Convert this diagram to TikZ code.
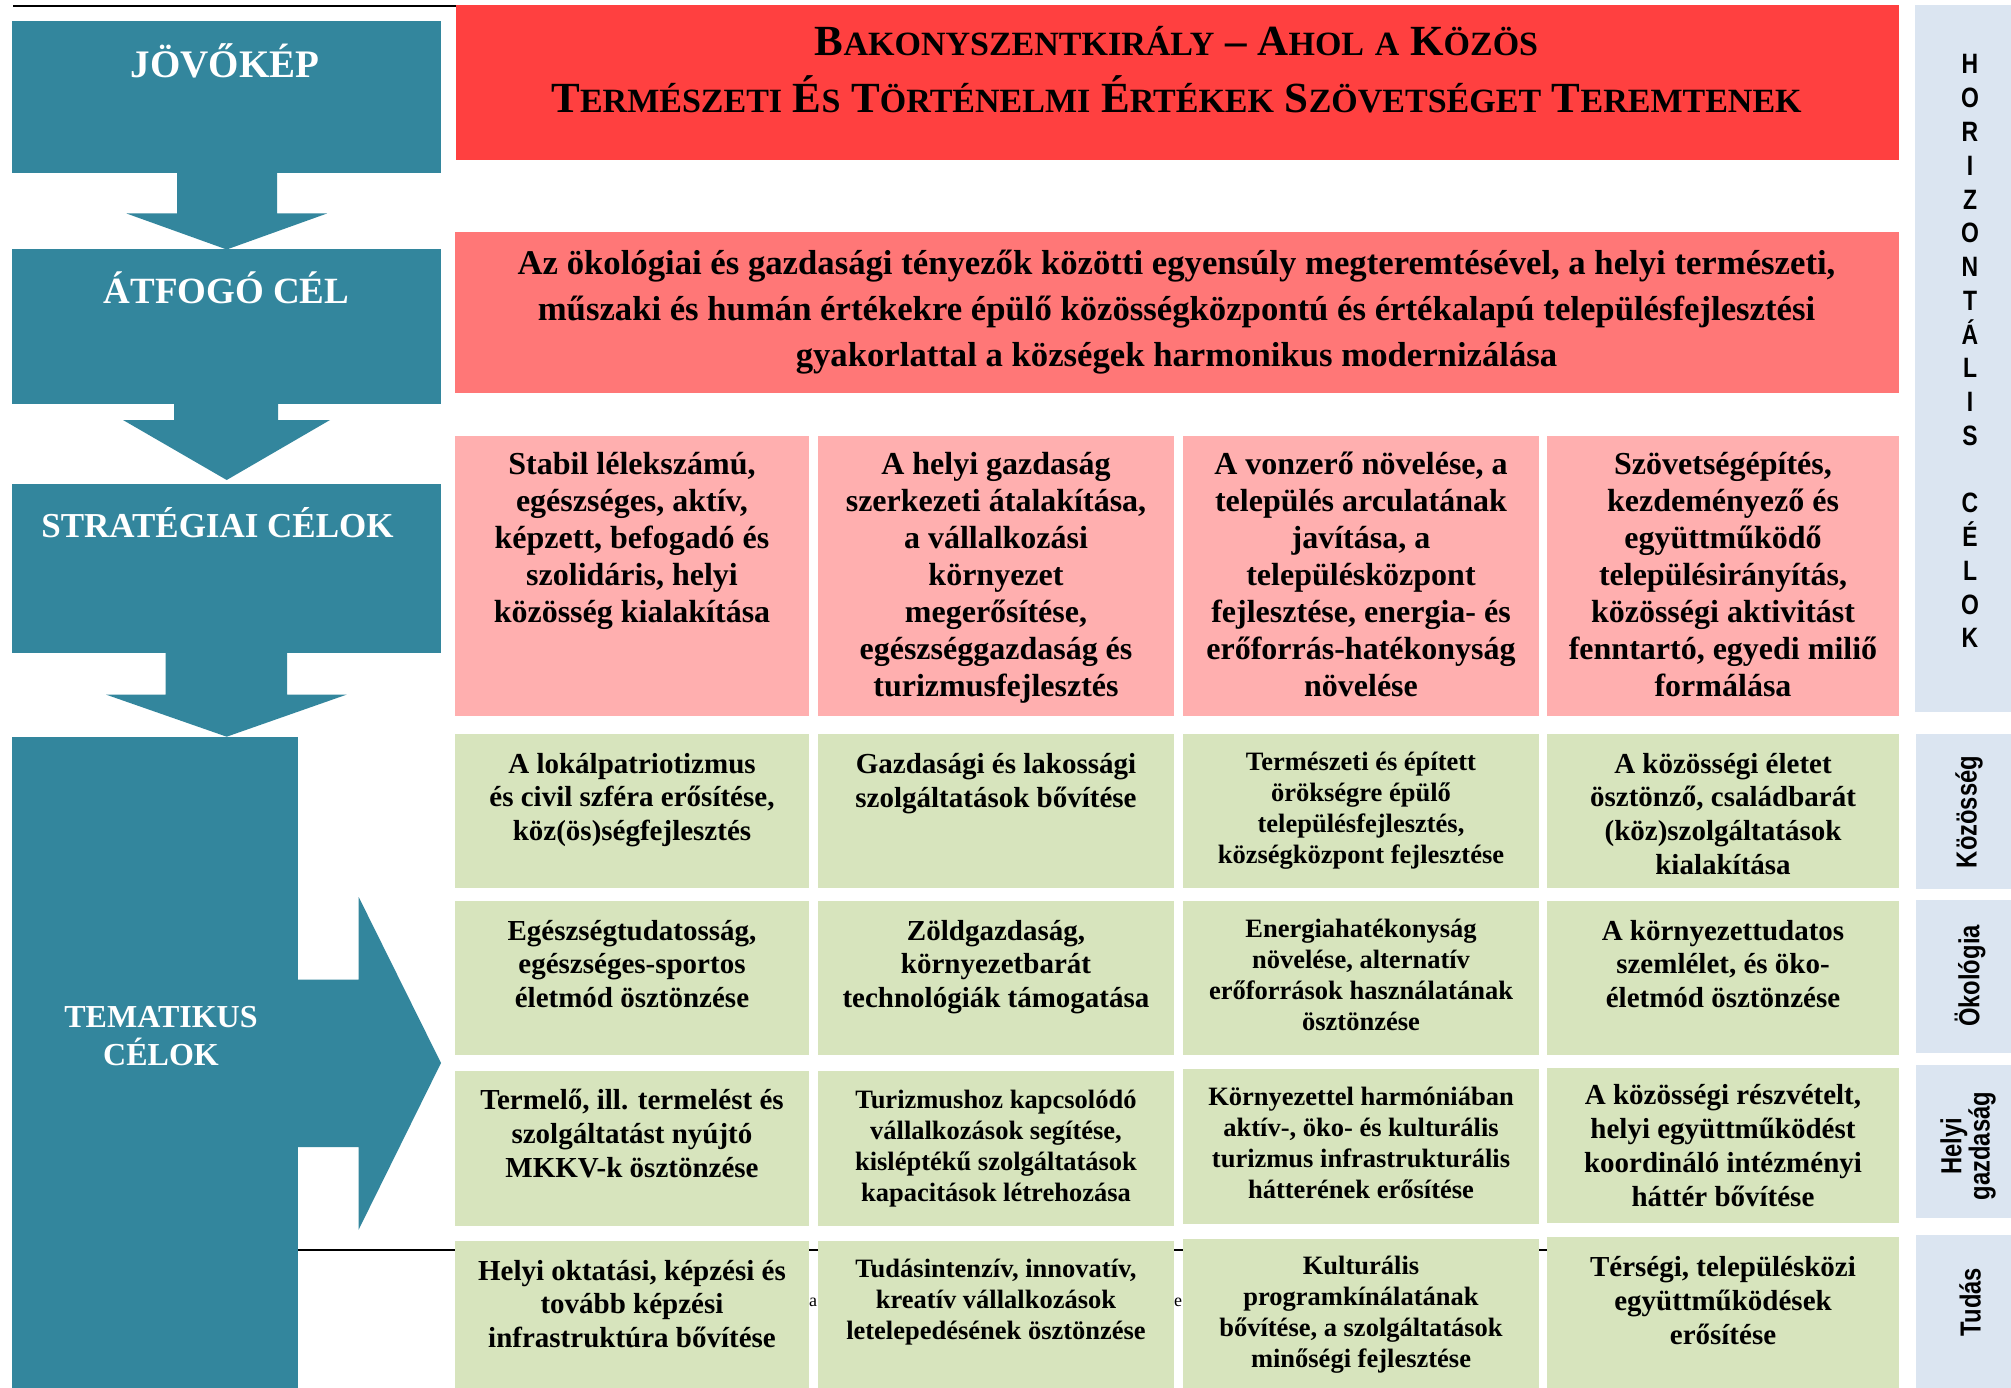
\documentclass[tikz,border=0pt]{standalone}
\usepackage{fontspec}
\setmainfont{Liberation Serif}
\newfontfamily\narrowsans[FakeStretch=0.82]{Liberation Sans}
\definecolor{tealc}{RGB}{51,134,157}
\definecolor{redc}{RGB}{255,64,64}
\definecolor{pinkA}{RGB}{255,119,119}
\definecolor{pinkB}{RGB}{255,175,175}
\definecolor{greenc}{RGB}{215,228,189}
\definecolor{bluec}{RGB}{219,229,241}
\newcommand\fsz[2]{\fontsize{#1}{#2}\selectfont}
\newcommand\bigc[1]{{\fontsize{43}{57}\selectfont #1}}
\newcommand\smc[1]{{\fontsize{34}{57}\selectfont #1}}
\tikzset{
  boxbase/.style={inner sep=0pt, outer sep=0pt, anchor=north west, draw=none},
  tealbox/.style={fill=tealc},
  redbox/.style={fill=redc},
  pinkabox/.style={fill=pinkA},
  pinkbbox/.style={fill=pinkB},
  greenbox/.style={fill=greenc},
  bluebox/.style={fill=bluec},
  txt/.style={anchor=base, inner sep=0pt, outer sep=0pt},
  whitetxt/.style={txt, text=white, font={\bfseries}},
  sidelabel/.style={rotate=90, inner sep=0pt, align=center, font={\narrowsans\bfseries\fsz{29}{22}}},
  rule/.style={draw=black, line width=2.5pt},
}
\newcommand\bx[6]{\node[boxbase,#6,minimum width={#4pt-#2pt},minimum height={#5pt-#3pt}] (#1) at (#2,#3) {};}
\newcommand\tx[6]{\node[txt,font={\bfseries\fsz{#4}{#5}}] (#1) at (#2,#3) {\parbox[t]{440pt}{\centering #6}};}
\begin{document}
\begin{tikzpicture}[x=1pt,y=-1pt]
\useasboundingbox (0,0) rectangle (2011,1388);
\fill[white] (0,0) rectangle (2011,1388);
% header rule and stray fragments
\coordinate (hl1) at (13,6);
\coordinate (hl2) at (900,6);
\draw[rule] (hl1) -- (hl2);
\coordinate (bl1) at (298,1250);
\coordinate (bl2) at (1547,1250);
\draw[rule] (bl1) -- (bl2);
\node[inner sep=0pt, font=\fsz{18}{20}] (fraga) at (813,1302) {a};
\node[inner sep=0pt, font=\fsz{18}{20}] (frage) at (1178,1302) {e};
% left teal column
\bx{jov}{12}{21}{441}{173}{tealbox}
\bx{atf}{12}{249.5}{441}{403.5}{tealbox}
\bx{str}{12}{484}{441}{652.5}{tealbox}
\bx{tem}{12}{736.7}{298.3}{1388}{tealbox}
\fill[tealc] (177,170) -- (277,170) -- (277,213.5) -- (327,213.5) -- (226.7,249.5) -- (126.5,213.5) -- (177,213.5) -- cycle;
\fill[tealc] (174,401) -- (278,401) -- (278,420) -- (330,420) -- (226.7,480) -- (123,420) -- (174,420) -- cycle;
\fill[tealc] (165.7,650) -- (287,650) -- (287,694.6) -- (346.7,694.6) -- (226.7,736.7) -- (106,694.6) -- (165.7,694.6) -- cycle;
\fill[tealc] (296,979.5) -- (358.7,979.5) -- (358.7,897) -- (441,1063) -- (358.7,1229.6) -- (358.7,1147) -- (296,1147) -- cycle;
\node[whitetxt, font={\bfseries\fsz{39}{45}}] (ljov) at (225,78) {JÖVŐKÉP};
\node[whitetxt, font={\bfseries\fsz{37}{43}}] (latf) at (226.5,304) {ÁTFOGÓ CÉL};
\node[whitetxt, font={\bfseries\fsz{35}{40}}] (lstr) at (217.5,537) {STRATÉGIAI CÉLOK};
\node[txt, text=white, font={\bfseries\fsz{32}{38}}] (ltem) at (161,1027) {\parbox[t]{280pt}{\centering TEMATIKUS\\CÉLOK}};
% title
\bx{titbox}{456}{5}{1899}{160}{redbox}
\node[txt] (title) at (1176.5,56) {\parbox[t]{1420pt}{\centering\bfseries\fsz{43}{57}%
\bigc{B}\smc{AKONYSZENTKIRÁLY} \bigc{–} \bigc{A}\smc{HOL} \smc{A} \bigc{K}\smc{ÖZÖS}\\
\bigc{T}\smc{ERMÉSZETI} \bigc{É}\smc{S} \bigc{T}\smc{ÖRTÉNELMI} \bigc{É}\smc{RTÉKEK} \bigc{S}\smc{ZÖVETSÉGET} \bigc{T}\smc{EREMTENEK}}};
% overall goal
\bx{goalbox}{455}{232.3}{1899}{392.7}{pinkabox}
\node[txt, font={\bfseries\fsz{34.7}{46}}] (goal) at (1176.5,275) {\parbox[t]{1420pt}{\centering
Az ökológiai és gazdasági tényezők közötti egyensúly megteremtésével, a helyi természeti,\\
műszaki és humán értékekre épülő közösségközpontú és értékalapú településfejlesztési\\
gyakorlattal a községek harmonikus modernizálása}};
% strategic goals
\bx{s1}{455}{436}{809}{715.7}{pinkbbox}
\bx{s2}{818}{436}{1174}{715.7}{pinkbbox}
\bx{s3}{1183}{436}{1539}{715.7}{pinkbbox}
\bx{s4}{1547}{436}{1899}{715.7}{pinkbbox}
\tx{ts1}{632}{474}{32}{37}{Stabil lélekszámú,\\egészséges, aktív,\\képzett, befogadó és\\szolidáris, helyi\\közösség kialakítása}
\tx{ts2}{996}{474}{32}{37}{A helyi gazdaság\\szerkezeti átalakítása,\\a vállalkozási\\környezet\\megerősítése,\\egészséggazdaság és\\turizmusfejlesztés}
\tx{ts3}{1361}{474}{32}{37}{A vonzerő növelése, a\\település arculatának\\javítása, a\\településközpont\\fejlesztése, energia- és\\erőforrás-hatékonyság\\növelése}
\tx{ts4}{1723}{474}{32}{37}{Szövetségépítés,\\kezdeményező és\\együttműködő\\településirányítás,\\közösségi aktivitást\\fenntartó, egyedi miliő\\formálása}
% thematic goals
\bx{g11}{455}{734}{809}{888}{greenbox}
\bx{g12}{818}{734}{1174}{888}{greenbox}
\bx{g13}{1183}{734}{1539}{888}{greenbox}
\bx{g14}{1547}{734}{1899}{888}{greenbox}
\bx{g21}{455}{901}{809}{1055}{greenbox}
\bx{g22}{818}{901}{1174}{1055}{greenbox}
\bx{g23}{1183}{901}{1539}{1055}{greenbox}
\bx{g24}{1547}{901}{1899}{1055}{greenbox}
\bx{g31}{455}{1071}{809}{1225.5}{greenbox}
\bx{g32}{818}{1071}{1174}{1225.5}{greenbox}
\bx{g33}{1183}{1069}{1539}{1223.5}{greenbox}
\bx{g34}{1547}{1068}{1899}{1222.5}{greenbox}
\bx{g41}{455}{1241}{809}{1388}{greenbox}
\bx{g42}{818}{1241}{1174}{1388}{greenbox}
\bx{g43}{1183}{1239}{1539}{1388}{greenbox}
\bx{g44}{1547}{1237}{1899}{1388}{greenbox}
\tx{t11}{632}{773}{29}{33.7}{A lokálpatriotizmus\\és civil szféra erősítése,\\köz(ös)ségfejlesztés}
\tx{t12}{996}{773}{29}{34.5}{Gazdasági és lakossági\\szolgáltatások bővítése}
\tx{t13}{1361}{770.5}{26.5}{31}{Természeti és épített\\örökségre épülő\\településfejlesztés,\\községközpont fejlesztése}
\tx{t14}{1723}{773}{29}{33.7}{A közösségi életet\\ösztönző, családbarát\\(köz)szolgáltatások\\kialakítása}
\tx{t21}{632}{940}{29}{33.7}{Egészségtudatosság,\\egészséges-sportos\\életmód ösztönzése}
\tx{t22}{996}{940}{29}{33.7}{Zöldgazdaság,\\környezetbarát\\technológiák támogatása}
\tx{t23}{1361}{937}{26.5}{31}{Energiahatékonyság\\növelése, alternatív\\erőforrások használatának\\ösztönzése}
\tx{t24}{1723}{940}{29}{33.7}{A környezettudatos\\szemlélet, és öko-\\életmód ösztönzése}
\tx{t31}{632}{1109}{29}{34}{Termelő, ill. termelést és\\szolgáltatást nyújtó\\MKKV-k ösztönzése}
\tx{t32}{996}{1108}{26.5}{31}{Turizmushoz kapcsolódó\\vállalkozások segítése,\\kisléptékű szolgáltatások\\kapacitások létrehozása}
\tx{t33}{1361}{1105}{26.5}{31}{Környezettel harmóniában\\aktív-, öko- és kulturális\\turizmus infrastrukturális\\hátterének erősítése}
\tx{t34}{1723}{1104}{29}{34}{A közösségi részvételt,\\helyi együttműködést\\koordináló intézményi\\háttér bővítése}
\tx{t41}{632}{1280}{29}{33.5}{Helyi oktatási, képzési és\\tovább képzési\\infrastruktúra bővítése}
\tx{t42}{996}{1277}{26.5}{31}{Tudásintenzív, innovatív,\\kreatív vállalkozások\\letelepedésének ösztönzése}
\tx{t43}{1361}{1274.5}{26.5}{31}{Kulturális\\programkínálatának\\bővítése, a szolgáltatások\\minőségi fejlesztése}
\tx{t44}{1723}{1276}{29}{34}{Térségi, településközi\\együttműködések\\erősítése}
% horizontal goals column
\bx{h0}{1915}{5}{2011}{712}{bluebox}
\bx{h1}{1916}{734}{2011}{889}{bluebox}
\bx{h2}{1916}{900}{2011}{1053}{bluebox}
\bx{h3}{1916}{1065}{2011}{1218}{bluebox}
\bx{h4}{1916}{1234.5}{2011}{1388}{bluebox}
\node[txt, font={\narrowsans\bfseries\fsz{28}{33.76}}] (lh0) at (1970,74) {\parbox[t]{60pt}{\centering H\\O\\R\\I\\Z\\O\\N\\T\\Á\\L\\I\\S\\\mbox{}\\C\\É\\L\\O\\K}};
\node[sidelabel] (lh1) at (1969,812) {Közösség};
\node[sidelabel] (lh2) at (1970,976) {Ökológia};
\node[sidelabel] (lh3) at (1968,1146) {Helyi\\gazdaság};
\node[sidelabel] (lh4) at (1970,1302) {Tudás};
\end{tikzpicture}
\end{document}
